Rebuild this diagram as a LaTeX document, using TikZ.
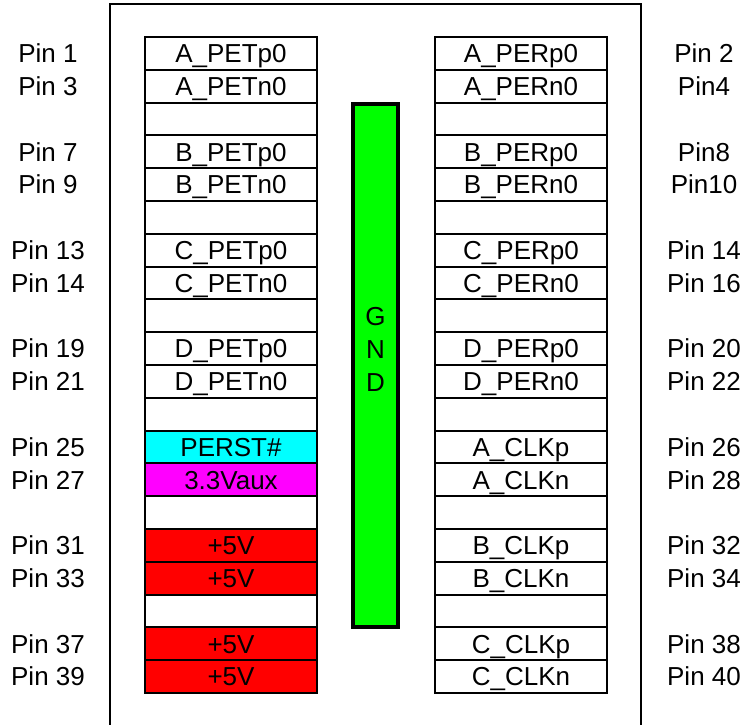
\documentclass[tikz,border=0pt]{standalone}
\usepackage{xcolor}
\usepackage{fontspec}
\setmainfont{Liberation Sans}
\usepackage{tikz}
\usetikzlibrary{positioning}

\definecolor{rstcyan}{RGB}{0,255,255}
\definecolor{auxmagenta}{RGB}{255,0,255}
\definecolor{pwrred}{RGB}{255,0,0}
\definecolor{gndgreen}{RGB}{0,255,0}

\tikzset{
  cell/.style={draw=black, line width=2pt, outer sep=0pt, inner sep=0pt,
    minimum width=172pt, minimum height=32.8pt, text height=18.6pt, text depth=0pt},
  pinlbl/.style={inner sep=0pt, text height=18.6pt, text depth=0pt},
  gndbar/.style={draw=black, fill=gndgreen, line width=4pt, outer sep=0pt,
    minimum width=45pt, minimum height=523pt}
}

\begin{document}
\begin{tikzpicture}[x=1pt, y=-1pt, font=\fontsize{26}{33}\selectfont]
\useasboundingbox (0,0) rectangle (744,725);
% outer frame, open at the bottom
\draw[black, line width=2pt] (110,725) |- (641,4) -- (641,725);

% left column
\node[cell] (l1) at (231,53.4) {A\_PETp0};
\node[cell, below=0pt of l1] (l2) {A\_PETn0};
\node[cell, below=0pt of l2] (l3) {};
\node[cell, below=0pt of l3] (l4) {B\_PETp0};
\node[cell, below=0pt of l4] (l5) {B\_PETn0};
\node[cell, below=0pt of l5] (l6) {};
\node[cell, below=0pt of l6] (l7) {C\_PETp0};
\node[cell, below=0pt of l7] (l8) {C\_PETn0};
\node[cell, below=0pt of l8] (l9) {};
\node[cell, below=0pt of l9] (l10) {D\_PETp0};
\node[cell, below=0pt of l10] (l11) {D\_PETn0};
\node[cell, below=0pt of l11] (l12) {};
\node[cell, fill=rstcyan, below=0pt of l12] (l13) {PERST\#};
\node[cell, fill=auxmagenta, below=0pt of l13] (l14) {3.3Vaux};
\node[cell, below=0pt of l14] (l15) {};
\node[cell, fill=pwrred, below=0pt of l15] (l16) {+5V};
\node[cell, fill=pwrred, below=0pt of l16] (l17) {+5V};
\node[cell, below=0pt of l17] (l18) {};
\node[cell, fill=pwrred, below=0pt of l18] (l19) {+5V};
\node[cell, fill=pwrred, below=0pt of l19] (l20) {+5V};

% right column
\node[cell] (r1) at (521,53.4) {A\_PERp0};
\node[cell, below=0pt of r1] (r2) {A\_PERn0};
\node[cell, below=0pt of r2] (r3) {};
\node[cell, below=0pt of r3] (r4) {B\_PERp0};
\node[cell, below=0pt of r4] (r5) {B\_PERn0};
\node[cell, below=0pt of r5] (r6) {};
\node[cell, below=0pt of r6] (r7) {C\_PERp0};
\node[cell, below=0pt of r7] (r8) {C\_PERn0};
\node[cell, below=0pt of r8] (r9) {};
\node[cell, below=0pt of r9] (r10) {D\_PERp0};
\node[cell, below=0pt of r10] (r11) {D\_PERn0};
\node[cell, below=0pt of r11] (r12) {};
\node[cell, below=0pt of r12] (r13) {A\_CLKp};
\node[cell, below=0pt of r13] (r14) {A\_CLKn};
\node[cell, below=0pt of r14] (r15) {};
\node[cell, below=0pt of r15] (r16) {B\_CLKp};
\node[cell, below=0pt of r16] (r17) {B\_CLKn};
\node[cell, below=0pt of r17] (r18) {};
\node[cell, below=0pt of r18] (r19) {C\_CLKp};
\node[cell, below=0pt of r19] (r20) {C\_CLKn};

% ground bar
\node[gndbar] (gnd) at (375.5,365.5) {};
\node[align=center, inner sep=0pt] (gndlbl) at ([yshift=16pt]gnd) {G\\N\\D};

% pin numbers, left
\node[pinlbl] (pl1) at ([xshift=-183pt]l1) {Pin 1};
\node[pinlbl] (pl2) at ([xshift=-183pt]l2) {Pin 3};
\node[pinlbl] (pl4) at ([xshift=-183pt]l4) {Pin 7};
\node[pinlbl] (pl5) at ([xshift=-183pt]l5) {Pin 9};
\node[pinlbl] (pl7) at ([xshift=-183pt]l7) {Pin 13};
\node[pinlbl] (pl8) at ([xshift=-183pt]l8) {Pin 14};
\node[pinlbl] (pl10) at ([xshift=-183pt]l10) {Pin 19};
\node[pinlbl] (pl11) at ([xshift=-183pt]l11) {Pin 21};
\node[pinlbl] (pl13) at ([xshift=-183pt]l13) {Pin 25};
\node[pinlbl] (pl14) at ([xshift=-183pt]l14) {Pin 27};
\node[pinlbl] (pl16) at ([xshift=-183pt]l16) {Pin 31};
\node[pinlbl] (pl17) at ([xshift=-183pt]l17) {Pin 33};
\node[pinlbl] (pl19) at ([xshift=-183pt]l19) {Pin 37};
\node[pinlbl] (pl20) at ([xshift=-183pt]l20) {Pin 39};

% pin numbers, right
\node[pinlbl] (pr1) at ([xshift=183pt]r1) {Pin 2};
\node[pinlbl] (pr2) at ([xshift=183pt]r2) {Pin4};
\node[pinlbl] (pr4) at ([xshift=183pt]r4) {Pin8};
\node[pinlbl] (pr5) at ([xshift=183pt]r5) {Pin10};
\node[pinlbl] (pr7) at ([xshift=183pt]r7) {Pin 14};
\node[pinlbl] (pr8) at ([xshift=183pt]r8) {Pin 16};
\node[pinlbl] (pr10) at ([xshift=183pt]r10) {Pin 20};
\node[pinlbl] (pr11) at ([xshift=183pt]r11) {Pin 22};
\node[pinlbl] (pr13) at ([xshift=183pt]r13) {Pin 26};
\node[pinlbl] (pr14) at ([xshift=183pt]r14) {Pin 28};
\node[pinlbl] (pr16) at ([xshift=183pt]r16) {Pin 32};
\node[pinlbl] (pr17) at ([xshift=183pt]r17) {Pin 34};
\node[pinlbl] (pr19) at ([xshift=183pt]r19) {Pin 38};
\node[pinlbl] (pr20) at ([xshift=183pt]r20) {Pin 40};
\end{tikzpicture}
\end{document}
